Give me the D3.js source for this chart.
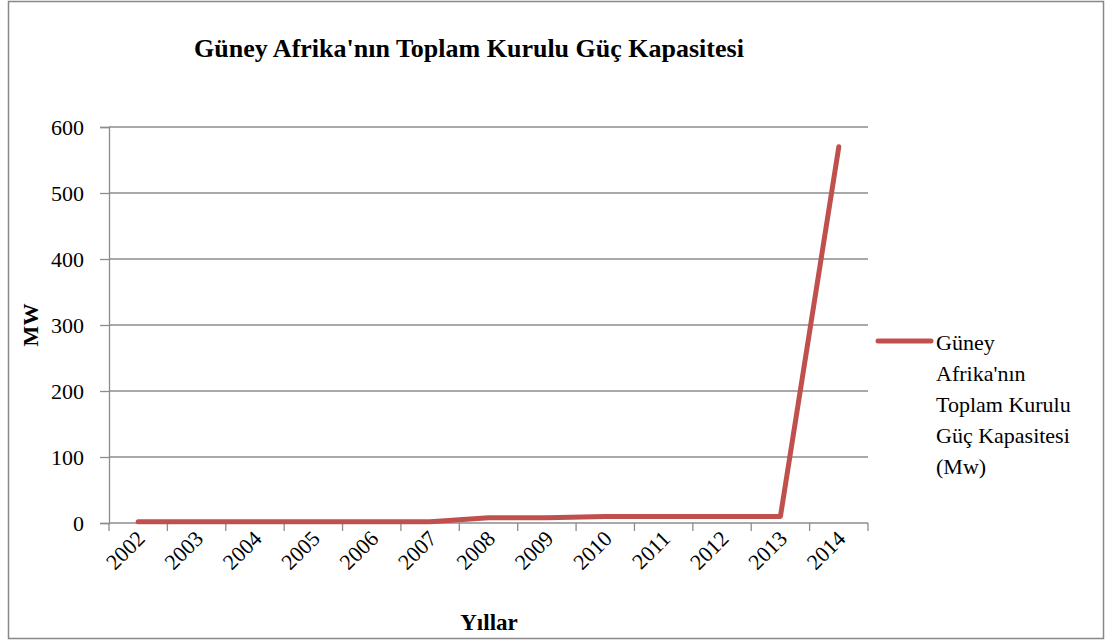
<!DOCTYPE html>
<html>
<head>
<meta charset="utf-8">
<script src="https://cdn.jsdelivr.net/npm/d3@7.9.0/dist/d3.min.js"></script>
<style>
  body { margin: 0; background: #fff; }
  svg text { font-family: 'Liberation Serif', 'Times New Roman', serif !important; }
</style>
</head>
<body>
<svg width="1113" height="644"></svg>
<script>
const years = ['2002', '2003', '2004', '2005', '2006', '2007', '2008', '2009', '2010', '2011', '2012', '2013', '2014'];
const capacity = [2, 2, 2, 2, 2, 2, 8, 8, 10, 10, 10, 10, 570];
const yTicks = [0, 100, 200, 300, 400, 500, 600];
const seriesName = ["Güney", "Afrika'nın", "Toplam Kurulu", "Güç Kapasitesi", "(Mw)"];

const serif = "'Liberation Serif', 'Times New Roman', serif";

// set the serif face inline so nothing else wins
function serifText(sel, size, bold) {
    sel.attr('font-family', 'Liberation Serif')
        .style('font-family', serif, 'important')
        .style('font-size', size + 'px')
        .style('font-weight', bold ? 'bold' : 'normal')
        .attr('fill', '#000');
    return sel;
}

const svg = d3.select('svg');

// chart frame
svg.append('rect')
    .attr('x', 8.5).attr('y', 1.5)
    .attr('width', 1095).attr('height', 637)
    .attr('fill', 'none').attr('stroke', '#888').attr('stroke-width', 1.5);

const plotLeft = 109, plotRight = 868, plotTop = 127, plotBottom = 523;

const x = d3.scaleBand().domain(years).range([plotLeft, plotRight]);
const y = d3.scaleLinear().domain([0, 600]).range([plotBottom, plotTop]);

// gridlines
svg.append('g')
    .selectAll('line')
    .data(yTicks.filter(d => d > 0))
    .join('line')
    .attr('x1', plotLeft).attr('x2', plotRight)
    .attr('y1', d => y(d)).attr('y2', d => y(d))
    .attr('stroke', '#8c8c8c').attr('stroke-width', 1.3);

// y axis
const yAxis = svg.append('g')
    .attr('transform', `translate(${plotLeft},0)`)
    .call(d3.axisLeft(y).tickValues(yTicks).tickSize(9).tickPadding(16));
yAxis.attr('font-family', null).attr('font-size', null);
yAxis.select('.domain').attr('stroke', '#8c8c8c').attr('stroke-width', 1.3);
yAxis.selectAll('.tick line').attr('stroke', '#8c8c8c').attr('stroke-width', 1.3);
serifText(yAxis.selectAll('.tick text'), 22, false);

// x axis: ticks at category boundaries
const bounds = years.map(d => x(d)).concat([plotRight]);
svg.append('line')
    .attr('x1', plotLeft).attr('x2', plotRight)
    .attr('y1', plotBottom).attr('y2', plotBottom)
    .attr('stroke', '#8c8c8c').attr('stroke-width', 1.3);
svg.append('g')
    .selectAll('line')
    .data(bounds)
    .join('line')
    .attr('x1', d => d).attr('x2', d => d)
    .attr('y1', plotBottom).attr('y2', plotBottom + 8)
    .attr('stroke', '#8c8c8c').attr('stroke-width', 1.3);

serifText(svg.append('g')
    .selectAll('text')
    .data(years)
    .join('text')
    .attr('transform', d => `translate(${x(d) + x.bandwidth() / 2 + 8},${plotBottom + 17}) rotate(-45)`)
    .attr('text-anchor', 'end')
    .text(d => d), 22, false);

// series line
const line = d3.line()
    .x((d, i) => x(years[i]) + x.bandwidth() / 2)
    .y(d => y(d));

svg.append('path')
    .datum(capacity)
    .attr('d', line)
    .attr('fill', 'none')
    .attr('stroke', '#c0504d')
    .attr('stroke-width', 5)
    .attr('stroke-linecap', 'round')
    .attr('stroke-linejoin', 'round');

// title
serifText(svg.append('text')
    .attr('x', 469).attr('y', 57)
    .attr('text-anchor', 'middle')
    .text("Güney Afrika'nın Toplam Kurulu Güç Kapasitesi"), 26, true);

// axis titles
serifText(svg.append('text')
    .attr('transform', 'translate(38,325) rotate(-90)')
    .attr('text-anchor', 'middle')
    .text('MW'), 22, true);

serifText(svg.append('text')
    .attr('x', 489).attr('y', 630)
    .attr('text-anchor', 'middle')
    .text('Yıllar'), 23, true);

// legend
svg.append('line')
    .attr('x1', 878).attr('x2', 931)
    .attr('y1', 341).attr('y2', 341)
    .attr('stroke', '#c0504d').attr('stroke-width', 5)
    .attr('stroke-linecap', 'round');

serifText(svg.append('g')
    .selectAll('text')
    .data(seriesName)
    .join('text')
    .attr('x', 936)
    .attr('y', (d, i) => 350 + i * 31)
    .text(d => d), 22, false);
</script>
</body>
</html>
